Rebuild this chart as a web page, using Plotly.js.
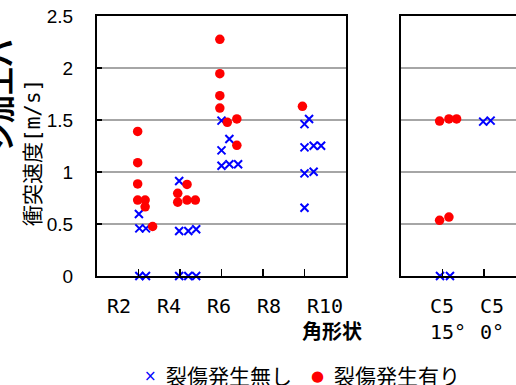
<!DOCTYPE html>
<html><head><meta charset="utf-8">
<script src="https://cdn.plot.ly/plotly-3.0.1.min.js"></script>
<style>html,body{margin:0;padding:0;overflow:hidden;background:#fff}#chart{width:540px;height:385px}</style>
</head><body><div id="chart"></div>
<script>
// ---- data ----
const seriesNames = ['裂傷発生無し', '裂傷発生有り'];
const yTitleMain = '衝突速度';
const yTitleUnit = '[m/s]';
const xTitle = '角形状';
const cutTitle = 'ジ加工バ';
const shapeLabels = ['R2', 'R4', 'R6', 'R8', 'R10'];
const cornerLabels = ['C5', 'C5'];
const angleLabels = ['15°', '0°'];
const yTicks = [0, 0.5, 1, 1.5, 2, 2.5];

// left panel: x = shape slot (1=R2 ... 5=R10, points set side by side), y = collision speed [m/s]
const noTearX = [1.01, 1.02, 1.18, 1.02, 1.18, 1.98, 1.98, 2.2, 2.39, 1.98, 2.2, 2.39, 3.0, 3.19, 3.0, 3.0, 3.19, 3.4, 5.0, 5.11, 5.0, 5.22, 5.4, 5.0, 5.22, 5.0];
const noTearY = [0.596, 0.458, 0.458, 0, 0, 0.913, 0.433, 0.433, 0.449, 0, 0, 0, 1.494, 1.317, 1.208, 1.06, 1.074, 1.074, 1.46, 1.51, 1.237, 1.253, 1.253, 0.987, 1.003, 0.657];
const tearX = [0.98, 0.98, 0.98, 0.98, 1.16, 1.16, 1.34, 2.17, 1.945, 1.945, 2.17, 2.37, 2.96, 2.96, 2.96, 2.96, 3.14, 3.37, 3.37, 4.95];
const tearY = [1.39, 1.09, 0.885, 0.73, 0.73, 0.665, 0.476, 0.88, 0.795, 0.71, 0.73, 0.73, 2.276, 1.945, 1.734, 1.615, 1.478, 1.51, 1.257, 1.632];
// right panel: x = slot (1=C5 15°, 2=C5 0°)
const cNoTearX = [0.94, 1.18, 1.98, 2.16];
const cNoTearY = [0, 0, 1.484, 1.494];
const cTearX = [0.93, 1.155, 1.34, 0.93, 1.155];
const cTearY = [1.49, 1.51, 1.51, 0.535, 0.567];

// ---- layout helpers ----
const W = 540, H = 385;
const px = v => v / W;
const py = v => 1 - v / H;
const BLUE = '#0000ff', RED = '#ff0000';
const CJK = 'Noto Sans CJK JP, sans-serif';
const NARROW = 'Liberation Sans Narrow, DejaVu Sans Mono, monospace';

const xMark = {symbol: 'x-thin', size: 8, color: BLUE, line: {color: BLUE, width: 2}};
const dotMark = {symbol: 'circle', size: 9.5, color: RED, line: {width: 0}};

const traces = [
  {x: noTearX, y: noTearY, xaxis: 'x', yaxis: 'y', type: 'scatter', mode: 'markers', name: seriesNames[0], marker: xMark, cliponaxis: false},
  {x: tearX, y: tearY, xaxis: 'x', yaxis: 'y', type: 'scatter', mode: 'markers', name: seriesNames[1], marker: dotMark, cliponaxis: false},
  {x: cNoTearX, y: cNoTearY, xaxis: 'x2', yaxis: 'y2', type: 'scatter', mode: 'markers', name: seriesNames[0], marker: xMark, cliponaxis: false},
  {x: cTearX, y: cTearY, xaxis: 'x2', yaxis: 'y2', type: 'scatter', mode: 'markers', name: seriesNames[1], marker: dotMark, cliponaxis: false}
];

const frame = {showline: true, linecolor: '#000', linewidth: 2, mirror: true, zeroline: false, fixedrange: true};
const yDomain = [py(276), py(16)];

const ann = [];
const lab = (t, x, y) => ({xref: 'paper', yref: 'paper', x: px(x), y: py(y), xanchor: 'left', yanchor: 'middle', text: t, showarrow: false, font: {family: NARROW, size: 20, color: '#000'}});
shapeLabels.forEach((t, i) => ann.push(lab(t, 105 + 50 * i, 306)));
cornerLabels.forEach((t, i) => ann.push(lab(t, 427.5 + 50 * i, 306)));
angleLabels.forEach((t, i) => ann.push(lab(t, 427.5 + 50 * i, 332)));
ann.push({xref: 'paper', yref: 'paper', x: px(332), y: py(330), xanchor: 'center', yanchor: 'middle', text: '<b>' + xTitle + '</b>', showarrow: false, font: {family: CJK, size: 20, color: '#000'}});
ann.push({xref: 'paper', yref: 'paper', x: px(31), y: py(153), xanchor: 'center', yanchor: 'middle', textangle: -90,
  text: yTitleMain + '<span style="font-family:DejaVu Sans Mono">' + yTitleUnit + '</span>', showarrow: false, font: {family: CJK, size: 21, color: '#000'}});
ann.push({xref: 'paper', yref: 'paper', x: px(0), y: py(95), xanchor: 'center', yanchor: 'middle', textangle: -90, text: '<b>' + cutTitle + '</b>', showarrow: false, font: {family: CJK, size: 28, color: '#000'}});
// legend
ann.push({xref: 'paper', yref: 'paper', x: px(150), y: py(376), xanchor: 'center', yanchor: 'middle', text: '×', showarrow: false, font: {family: 'DejaVu Sans, sans-serif', size: 15, color: BLUE}});
ann.push({xref: 'paper', yref: 'paper', x: px(164), y: py(375), xanchor: 'left', yanchor: 'middle', text: seriesNames[0], showarrow: false, font: {family: CJK, size: 21, color: '#000'}});
ann.push({xref: 'paper', yref: 'paper', x: px(317), y: py(376), xanchor: 'center', yanchor: 'middle', text: '●', showarrow: false, font: {family: 'DejaVu Sans, sans-serif', size: 15, color: RED}});
ann.push({xref: 'paper', yref: 'paper', x: px(332), y: py(375), xanchor: 'left', yanchor: 'middle', text: seriesNames[1], showarrow: false, font: {family: CJK, size: 21, color: '#000'}});

const layout = {
  width: W, height: H,
  margin: {l: 0, r: 0, t: 0, b: 0},
  paper_bgcolor: '#fff', plot_bgcolor: '#fff',
  showlegend: false,
  xaxis: Object.assign({}, frame, {domain: [px(97), px(346)], range: [0, 6], tickvals: [1, 2, 3, 4, 5], ticks: 'inside', ticklen: 7, tickwidth: 1.5, tickcolor: '#000', showticklabels: false, showgrid: false, anchor: 'y'}),
  yaxis: Object.assign({}, frame, {domain: yDomain, range: [0, 2.5], tickvals: yTicks, ticktext: yTicks.map(String), ticks: 'inside', ticklen: 5, tickwidth: 1.5, tickcolor: '#000', showgrid: true, gridcolor: '#a6a6a6', gridwidth: 1.5, tickfont: {family: 'Liberation Sans, Arial, sans-serif', size: 19, color: '#000'}, ticklabelstandoff: 18, anchor: 'x'}),
  xaxis2: Object.assign({}, frame, {domain: [px(401), px(525.5)], range: [0, 3], tickvals: [1, 2, 3], ticks: 'inside', ticklen: 7, tickwidth: 1.5, tickcolor: '#000', showticklabels: false, showgrid: false, anchor: 'y2'}),
  yaxis2: Object.assign({}, frame, {domain: yDomain, range: [0, 2.5], tickvals: yTicks, ticks: '', showticklabels: false, showgrid: true, gridcolor: '#a6a6a6', gridwidth: 1.5, anchor: 'x2'}),
  annotations: ann
};

Plotly.newPlot('chart', traces, layout, {staticPlot: true, displayModeBar: false});
</script></body></html>
